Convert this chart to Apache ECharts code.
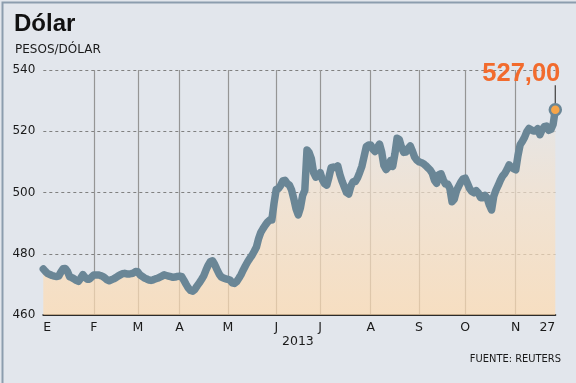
<!DOCTYPE html>
<html>
<head>
<meta charset="utf-8">
<script src="https://cdn.jsdelivr.net/npm/echarts@6/dist/echarts.min.js"></script>
<style>
html,body{margin:0;padding:0;background:#E2E6EC;}
#c{width:576px;height:383px;}
</style>
</head>
<body>
<div id="c"></div>
<script>
// Tick labels (month initials, Spanish) and final day label
const monthLabels = ['E','F','M','A','M','J','J','A','S','O','N'];
const endLabel = '27';
const yearLabel = '2013';

// Daily closing values (pesos per dollar), by month
const ene = [475.0,474.2,473.5,473.2,472.9,472.7,472.6,472.7,474.0,475.1,475.2,474.2,472.5,472.2,471.8,471.3,471.0,472.0,473.2,472.3,471.7,471.7,472.4];
const feb = [473.1,473.1,473.1,472.9,472.6,472.1,471.5,471.2,471.5,471.8,472.2,472.7,473.1,473.5,473.6,473.4,473.4,473.5,473.7,474.2];
const mar = [474.1,473.1,472.6,472.1,471.8,471.4,471.3,471.5,471.8,472.0,472.3,472.7,473.1,472.9,472.7,472.5,472.3,472.4,472.6];
const abr = [472.7,472.5,471.3,470.0,468.8,468.0,467.8,468.4,469.5,470.5,471.6,472.8,474.6,476.2,477.4,477.7,476.5,474.9,473.4,472.4,472.1,471.8];
const may = [471.6,471.4,470.5,470.3,470.9,472.0,473.2,474.7,476.1,477.4,478.5,479.5,480.8,482.2,485.0,487.0,488.2,489.3,490.3,491.0,491.0,496.5];
const jun = [501.0,501.3,502.3,503.8,504.0,502.9,502.4,500.8,497.9,494.7,492.7,495.0,499.0,500.7,513.9,513.0,511.0,506.5,505.0,505.5];
const jul = [506.5,504.2,502.9,502.4,505.0,508.1,508.3,508.1,508.7,505.8,503.6,501.8,500.0,499.5,502.1,503.5,503.6,504.8,506.6,508.6,511.8,515.0,515.5];
const ago = [515.5,514.1,513.4,514.7,515.8,513.2,508.8,507.5,508.3,510.4,508.5,512.6,517.7,517.3,514.8,513.1,513.2,514.4,515.2,513.5,511.5,510.6];
const sep = [510.0,509.8,509.4,508.8,508.1,507.4,506.3,504.0,503.0,505.8,506.1,504.2,502.8,502.8,501.4,497.0,497.8,500.5,502.0,503.4,504.4];
const oct = [504.7,503.0,501.3,500.3,499.9,500.6,499.8,498.3,498.3,499.0,498.2,495.9,494.3,498.8,500.8,502.3,504.0,505.4,506.2,507.5,509.0,508.3,507.8];
const nov = [507.4,512.0,515.6,516.7,518.0,519.8,520.9,520.5,520.1,520.1,520.8,518.9,520.5,521.5,521.7,520.3,520.6,522.2,527.0];

const monthsData = [ene,feb,mar,abr,may,jun,jul,ago,sep,oct,nov];

// Build category axis + label lookup
const values = [];
const cats = [];
const labelAt = {};
const gridAt = {};
monthsData.forEach((arr, m) => {
  labelAt[values.length] = monthLabels[m];
  if (values.length > 0) gridAt[values.length] = true;
  arr.forEach((v) => { cats.push('d' + values.length); values.push(v); });
});
const lastIdx = values.length - 1;
labelAt[lastIdx] = endLabel;
const lastVal = values[lastIdx];
const lastText = lastVal.toFixed(2).replace('.', ',');

const chart = echarts.init(document.getElementById('c'), null, {renderer: 'canvas'});
const FONT = 'DejaVu Sans, Verdana, sans-serif';

chart.setOption({
  animation: false,
  backgroundColor: '#E2E6EC',
  grid: {left: 43.3, right: 20.7, top: 70, bottom: 68, containLabel: false},
  xAxis: {
    type: 'category',
    data: cats,
    boundaryGap: false,
    axisLine: {show: true, lineStyle: {color: '#2b2b2b', width: 2}},
    axisTick: {show: false},
    axisLabel: {
      interval: (i) => labelAt[i] !== undefined,
      formatter: (v, i) => labelAt[i] || '',
      color: '#1a1a1a', fontFamily: FONT, fontSize: 12.5, margin: 6,
      alignMinLabel: 'left', alignMaxLabel: 'right'
    },
    splitLine: {
      show: true,
      interval: (i) => gridAt[i] === true,
      lineStyle: {color: '#959595', width: 1.2, type: 'solid'}
    }
  },
  yAxis: {
    type: 'value',
    min: 460, max: 540, interval: 20,
    axisLine: {show: false},
    axisTick: {show: false},
    axisLabel: {color: '#1a1a1a', fontFamily: FONT, fontSize: 12, margin: 8},
    splitLine: {show: true, lineStyle: {color: '#808080', width: 1, type: [3, 3]}}
  },
  series: [{
    type: 'line',
    data: values,
    symbol: 'none',
    smooth: false,
    lineStyle: {color: '#6A8696', width: 7.5, cap: 'round', join: 'round'},
    areaStyle: {
      origin: 'start',
      color: new echarts.graphic.LinearGradient(0, 0, 0, 1, [
        {offset: 0, color: '#E6E5E4'},
        {offset: 0.45, color: '#F6E1C9'},
        {offset: 1, color: '#FFDBAF'}
      ])
    },
    z: 3,
    markPoint: {
      silent: true,
      animation: false,
      data: [
        {
          coord: [lastIdx, lastVal], symbol: 'rect', symbolSize: [1.3, 19], symbolOffset: [0, -15],
          itemStyle: {color: '#4a4a4a'},
          label: {show: true, formatter: lastText, position: 'top', distance: 0, offset: [-34, 2],
                  color: '#F26B2D', fontFamily: 'Liberation Sans, Arial, sans-serif', fontWeight: 'bold', fontSize: 25.5}
        },
        {
          coord: [lastIdx, lastVal], symbol: 'circle', symbolSize: 11,
          itemStyle: {color: '#F7A548', borderColor: '#6A8696', borderWidth: 2.5},
          label: {show: false}
        }
      ]
    }
  }],
  graphic: [
    {type: 'rect', left: 0, top: 0, shape: {width: 575, height: 382}, style: {fill: 'none', stroke: '#8C9DAE', lineWidth: 2}, silent: true},
    {type: 'text', left: 14, top: 12, style: {text: 'Dólar', font: 'bold 24px "Liberation Sans", Arial, sans-serif', fill: '#111'}},
    {type: 'text', left: 15, top: 44, style: {text: 'PESOS/DÓLAR', font: '12px "DejaVu Sans", Verdana, sans-serif', fill: '#1a1a1a'}},
    {type: 'text', left: 282, top: 335, style: {text: yearLabel, font: '12.5px "DejaVu Sans", Verdana, sans-serif', fill: '#1a1a1a'}},
    {type: 'text', right: 15, top: 354, style: {text: 'FUENTE: REUTERS', font: '11px "DejaVu Sans Condensed", "DejaVu Sans", sans-serif', fill: '#1a1a1a'}}
  ]
});
</script>
</body>
</html>
